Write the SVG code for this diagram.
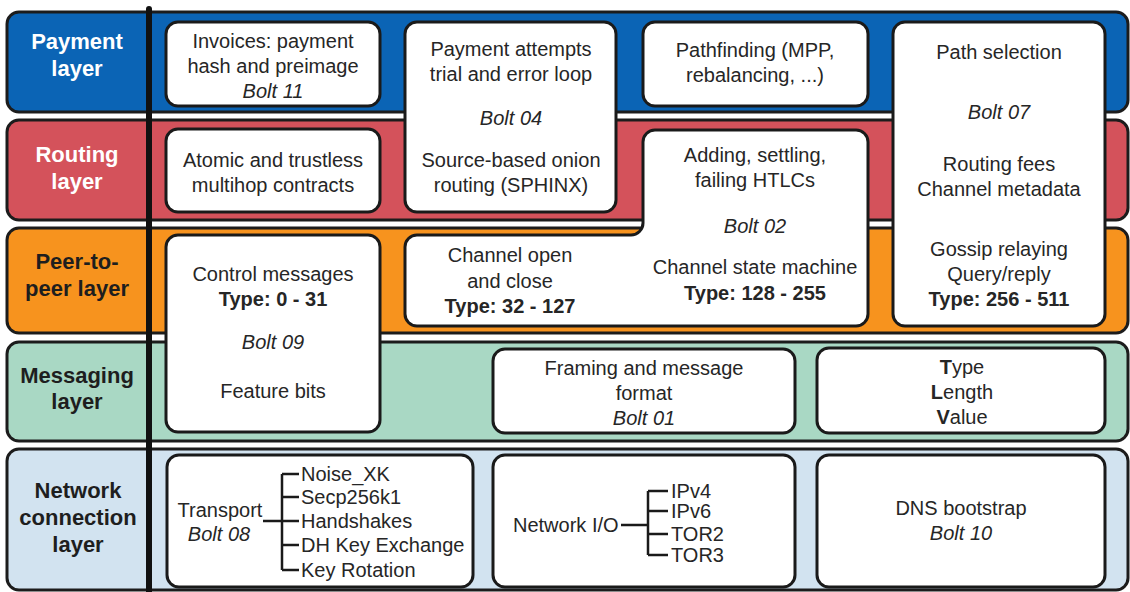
<svg xmlns="http://www.w3.org/2000/svg" width="1130" height="592" viewBox="0 0 1130 592">
  <style>
    .band { stroke: #1c1c1c; stroke-width: 3; }
    .box { fill: #ffffff; stroke: #1a1a1a; stroke-width: 3; }
    .lbl { font-family: "Liberation Sans", Arial, sans-serif; font-size: 22px; font-weight: bold; text-anchor: middle; }
    .lbl-light { fill: #ffffff; }
    .lbl-dark { fill: #1e1e1e; }
    .t { font-family: "Liberation Sans", Arial, sans-serif; font-size: 20px; fill: #262626; text-anchor: middle; }
    .ts { text-anchor: start; }
    .b { font-weight: bold; }
    .i { font-style: italic; }
    .tree { fill: none; stroke: #1a1a1a; stroke-width: 2.5; }
  </style>

  <rect width="1130" height="592" fill="#ffffff"/>

  <!-- layer bands -->
  <g id="layer-payment">
    <rect class="band" x="7" y="12" width="1121" height="100" rx="12" fill="#0b64b5"/>
    <text class="lbl lbl-light" x="77" y="49">Payment</text>
    <text class="lbl lbl-light" x="77" y="76">layer</text>
  </g>
  <g id="layer-routing">
    <rect class="band" x="7" y="120" width="1121" height="100" rx="12" fill="#d4525b"/>
    <text class="lbl lbl-light" x="77" y="162">Routing</text>
    <text class="lbl lbl-light" x="77" y="189">layer</text>
  </g>
  <g id="layer-peer">
    <rect class="band" x="7" y="228" width="1121" height="105" rx="12" fill="#f7931e"/>
    <text class="lbl lbl-dark" x="77" y="269">Peer-to-</text>
    <text class="lbl lbl-dark" x="77" y="296">peer layer</text>
  </g>
  <g id="layer-messaging">
    <rect class="band" x="7" y="342" width="1121" height="99" rx="12" fill="#a9d8c4"/>
    <text class="lbl lbl-dark" x="77" y="383">Messaging</text>
    <text class="lbl lbl-dark" x="77" y="409">layer</text>
  </g>
  <g id="layer-network">
    <rect class="band" x="7" y="449" width="1121" height="141" rx="12" fill="#d2e3f0"/>
    <text class="lbl lbl-dark" x="78" y="498">Network</text>
    <text class="lbl lbl-dark" x="78" y="525">connection</text>
    <text class="lbl lbl-dark" x="78" y="552">layer</text>
  </g>

  <!-- divider between layer names and components -->
  <line x1="149" y1="9" x2="149" y2="592" stroke="#111111" stroke-width="6" stroke-linecap="round"/>

  <!-- component boxes -->
  <g id="invoices">
    <rect class="box" x="166" y="22" width="214" height="84" rx="12"/>
    <text class="t" x="273" y="48">Invoices: payment</text>
    <text class="t" x="273" y="73">hash and preimage</text>
    <text class="t i" x="273" y="98">Bolt 11</text>
  </g>
  <g id="payment-attempts">
    <rect class="box" x="405" y="22" width="211" height="190" rx="12"/>
    <text class="t" x="511" y="56">Payment attempts</text>
    <text class="t" x="511" y="81">trial and error loop</text>
    <text class="t i" x="511" y="125">Bolt 04</text>
    <text class="t" x="511" y="167">Source-based onion</text>
    <text class="t" x="511" y="192">routing (SPHINX)</text>
  </g>
  <g id="pathfinding">
    <rect class="box" x="643" y="22" width="225" height="84" rx="12"/>
    <text class="t" x="755" y="57">Pathfinding (MPP,</text>
    <text class="t" x="755" y="82">rebalancing, ...)</text>
  </g>
  <g id="path-selection">
    <rect class="box" x="893" y="22" width="212" height="304" rx="12"/>
    <text class="t" x="999" y="59">Path selection</text>
    <text class="t i" x="999" y="119">Bolt 07</text>
    <text class="t" x="999" y="171">Routing fees</text>
    <text class="t" x="999" y="196">Channel metadata</text>
    <text class="t" x="999" y="256">Gossip relaying</text>
    <text class="t" x="999" y="281">Query/reply</text>
    <text class="t b" x="999" y="306">Type: 256 - 511</text>
  </g>
  <g id="multihop-contracts">
    <rect class="box" x="166" y="129" width="214" height="83" rx="12"/>
    <text class="t" x="273" y="167">Atomic and trustless</text>
    <text class="t" x="273" y="192">multihop contracts</text>
  </g>
  <g id="channel-htlcs">
    <path class="box" d="M 417,235 H 631 A 12 12 0 0 0 643,223 V 142 A 12 12 0 0 1 655,130 H 856 A 12 12 0 0 1 868,142 V 314 A 12 12 0 0 1 856,326 H 417 A 12 12 0 0 1 405,314 V 247 A 12 12 0 0 1 417,235 Z"/>
    <text class="t" x="755" y="162">Adding, settling,</text>
    <text class="t" x="755" y="187">failing HTLCs</text>
    <text class="t i" x="755" y="233">Bolt 02</text>
    <text class="t" x="755" y="274">Channel state machine</text>
    <text class="t b" x="755" y="300">Type: 128 - 255</text>
    <text class="t" x="510" y="262">Channel open</text>
    <text class="t" x="510" y="288">and close</text>
    <text class="t b" x="510" y="313">Type: 32 - 127</text>
  </g>
  <g id="control-messages">
    <rect class="box" x="166" y="235" width="214" height="197" rx="12"/>
    <text class="t" x="273" y="281">Control messages</text>
    <text class="t b" x="273" y="306">Type: 0 - 31</text>
    <text class="t i" x="273" y="349">Bolt 09</text>
    <text class="t" x="273" y="398">Feature bits</text>
  </g>
  <g id="framing">
    <rect class="box" x="493" y="349" width="302" height="84" rx="12"/>
    <text class="t" x="644" y="375">Framing and message</text>
    <text class="t" x="644" y="400">format</text>
    <text class="t i" x="644" y="425">Bolt 01</text>
  </g>
  <g id="tlv">
    <rect class="box" x="817" y="348" width="288" height="85" rx="12"/>
    <text class="t" x="962" y="374"><tspan class="b">T</tspan>ype</text>
    <text class="t" x="962" y="399"><tspan class="b">L</tspan>ength</text>
    <text class="t" x="962" y="424"><tspan class="b">V</tspan>alue</text>
  </g>
  <g id="transport">
    <rect class="box" x="167" y="455" width="306" height="132" rx="12"/>
    <text class="t" x="220" y="517">Transport</text>
    <text class="t i" x="219" y="541">Bolt 08</text>
    <text class="t ts" x="301" y="481">Noise_XK</text>
    <text class="t ts" x="301" y="504">Secp256k1</text>
    <text class="t ts" x="301" y="528">Handshakes</text>
    <text class="t ts" x="301" y="552">DH Key Exchange</text>
    <text class="t ts" x="301" y="577">Key Rotation</text>
  </g>
  <g id="network-io">
    <rect class="box" x="493" y="455" width="302" height="132" rx="12"/>
    <text class="t ts" x="513" y="532">Network I/O</text>
    <text class="t ts" x="671" y="498">IPv4</text>
    <text class="t ts" x="671" y="518">IPv6</text>
    <text class="t ts" x="671" y="541">TOR2</text>
    <text class="t ts" x="671" y="562">TOR3</text>
  </g>
  <g id="dns-bootstrap">
    <rect class="box" x="817" y="455" width="288" height="132" rx="12"/>
    <text class="t" x="961" y="515">DNS bootstrap</text>
    <text class="t i" x="961" y="540">Bolt 10</text>
  </g>

  <!-- tree connectors inside the network connection boxes -->
  <g id="connectors">
    <path class="tree" d="M 263,521 H 282 M 282,474 V 570 M 282,474 H 299 M 282,497 H 299 M 282,521 H 299 M 282,545 H 299 M 282,570 H 299"/>
    <path class="tree" d="M 621,525 H 648 M 648,491 V 555 M 648,491 H 668 M 648,511 H 668 M 648,534 H 668 M 648,555 H 668"/>
  </g>
</svg>
